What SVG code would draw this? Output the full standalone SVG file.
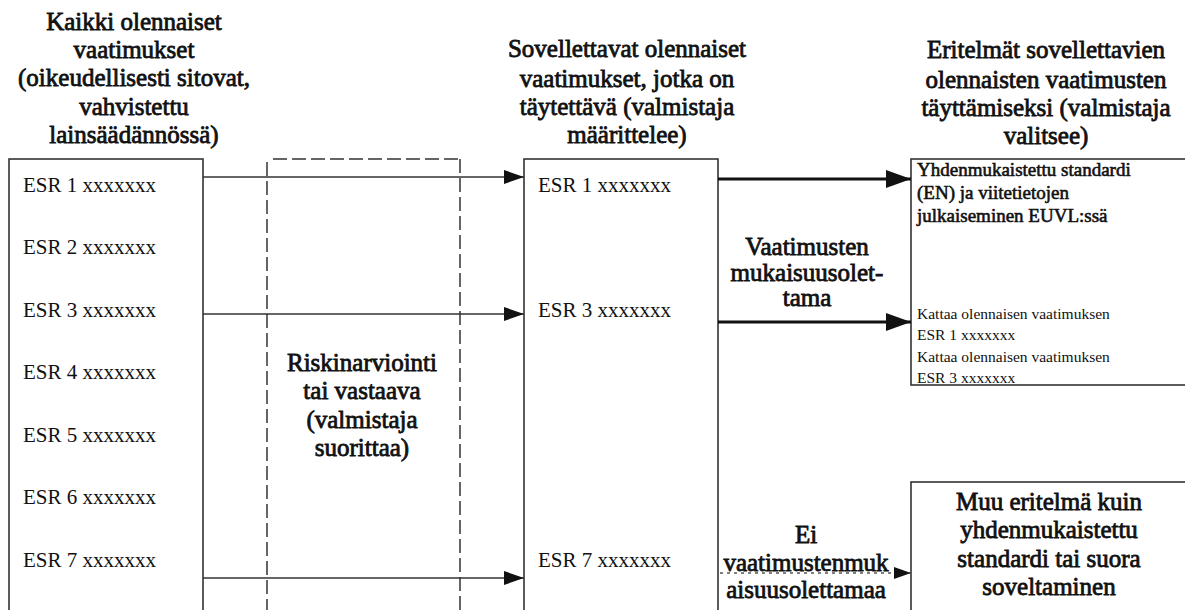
<svg xmlns="http://www.w3.org/2000/svg" width="1185" height="610" viewBox="0 0 1185 610">
<defs>
<style>
.hd{font-family:"Liberation Serif","Times New Roman",serif;font-size:25px;fill:#111;stroke:#111;stroke-width:0.8;text-anchor:middle}
.esr{font-family:"Liberation Serif","Times New Roman",serif;font-size:21px;fill:#111}
.sm{font-family:"Liberation Serif","Times New Roman",serif;font-size:15.5px;fill:#111}
.smb{font-family:"Liberation Serif","Times New Roman",serif;font-size:19px;fill:#111;stroke:#111;stroke-width:0.6}
.box{fill:#fff;stroke:#333;stroke-width:1.6}
.dash{fill:none;stroke:#333;stroke-width:1.5;stroke-dasharray:14 5}
.thin{stroke:#333;stroke-width:1.6;fill:none}
.bold{stroke:#111;stroke-width:3;fill:none}
.dot{stroke:#555;stroke-width:1.5;stroke-dasharray:3 4;fill:none}
</style>
<marker id="ah" markerUnits="userSpaceOnUse" markerWidth="20" markerHeight="14" refX="20" refY="7" orient="auto"><path d="M0,0 L20,7 L0,14 z" fill="#111"/></marker>
<marker id="ahb" markerUnits="userSpaceOnUse" markerWidth="25" markerHeight="18" refX="25" refY="9" orient="auto"><path d="M0,0 L25,9 L0,18 z" fill="#111"/></marker>
<marker id="ahs" markerUnits="userSpaceOnUse" markerWidth="17" markerHeight="12" refX="17" refY="6" orient="auto"><path d="M0,0 L17,6 L0,12 z" fill="#111"/></marker>
</defs>
<rect width="1185" height="610" fill="#fff"/>

<g id="all-requirements">
<text class="hd" x="134" y="30">Kaikki olennaiset</text>
<text class="hd" x="134" y="58">vaatimukset</text>
<text class="hd" x="134" y="86">(oikeudellisesti sitovat,</text>
<text class="hd" x="134" y="115">vahvistettu</text>
<text class="hd" x="134" y="143">lainsäädännössä)</text>
<rect class="box" x="9" y="159" width="194" height="470"/>
<text class="esr" x="23" y="192">ESR 1 xxxxxxx</text>
<text class="esr" x="23" y="254">ESR 2 xxxxxxx</text>
<text class="esr" x="23" y="317">ESR 3 xxxxxxx</text>
<text class="esr" x="23" y="379">ESR 4 xxxxxxx</text>
<text class="esr" x="23" y="442">ESR 5 xxxxxxx</text>
<text class="esr" x="23" y="504">ESR 6 xxxxxxx</text>
<text class="esr" x="23" y="567">ESR 7 xxxxxxx</text>
</g>

<g id="risk-assessment">
<path class="dash" d="M273,159 H460"/>
<path class="dash" d="M267,162 V620"/>
<path class="dash" d="M460,159 V620"/>
<text class="hd" x="362" y="371">Riskinarviointi</text>
<text class="hd" x="362" y="399">tai vastaava</text>
<text class="hd" x="362" y="428">(valmistaja</text>
<text class="hd" x="362" y="456">suorittaa)</text>
</g>

<g id="applicable-requirements">
<text class="hd" x="627" y="57">Sovellettavat olennaiset</text>
<text class="hd" x="627" y="87">vaatimukset, jotka on</text>
<text class="hd" x="627" y="115">täytettävä (valmistaja</text>
<text class="hd" x="627" y="143">määrittelee)</text>
<rect class="box" x="524" y="159" width="194" height="470"/>
<text class="esr" x="538" y="192">ESR 1 xxxxxxx</text>
<text class="esr" x="538" y="317">ESR 3 xxxxxxx</text>
<text class="esr" x="538" y="567">ESR 7 xxxxxxx</text>
</g>

<g id="specifications-header">
<text class="hd" x="1046" y="58">Eritelmät sovellettavien</text>
<text class="hd" x="1046" y="88">olennaisten vaatimusten</text>
<text class="hd" x="1046" y="116">täyttämiseksi (valmistaja</text>
<text class="hd" x="1046" y="144">valitsee)</text>
</g>

<g id="harmonised-standard">
<rect class="box" x="911" y="159" width="290" height="226"/>
<text class="smb" x="917" y="176">Yhdenmukaistettu standardi</text>
<text class="smb" x="917" y="199">(EN) ja viitetietojen</text>
<text class="smb" x="917" y="222">julkaiseminen EUVL:ssä</text>
<text class="sm" x="917" y="319">Kattaa olennaisen vaatimuksen</text>
<text class="sm" x="917" y="340">ESR 1 xxxxxxx</text>
<text class="sm" x="917" y="362">Kattaa olennaisen vaatimuksen</text>
<text class="sm" x="917" y="383">ESR 3 xxxxxxx</text>
</g>

<g id="other-specification">
<rect class="box" x="911" y="482" width="290" height="150"/>
<text class="hd" x="1049" y="510">Muu eritelmä kuin</text>
<text class="hd" x="1049" y="538">yhdenmukaistettu</text>
<text class="hd" x="1049" y="567">standardi tai suora</text>
<text class="hd" x="1049" y="595">soveltaminen</text>
</g>

<g id="connectors">
<line class="thin" x1="203" y1="177" x2="524" y2="177" marker-end="url(#ah)"/>
<line class="thin" x1="203" y1="314" x2="524" y2="314" marker-end="url(#ah)"/>
<line class="thin" x1="203" y1="578" x2="524" y2="578" marker-end="url(#ah)"/>
<line class="bold" x1="718" y1="179" x2="911" y2="179" marker-end="url(#ahb)"/>
<line class="bold" x1="718" y1="322" x2="911" y2="322" marker-end="url(#ahb)"/>
<line class="dot" x1="720" y1="573" x2="911" y2="573" marker-end="url(#ahs)"/>
<text class="hd" x="807" y="255">Vaatimusten</text>
<text class="hd" x="807" y="281">mukaisuusolet-</text>
<text class="hd" x="807" y="306">tama</text>
<text class="hd" x="806" y="543">Ei</text>
<text class="hd" x="806" y="571">vaatimustenmuk</text>
<text class="hd" x="806" y="598">aisuusolettamaa</text>
</g>
</svg>
